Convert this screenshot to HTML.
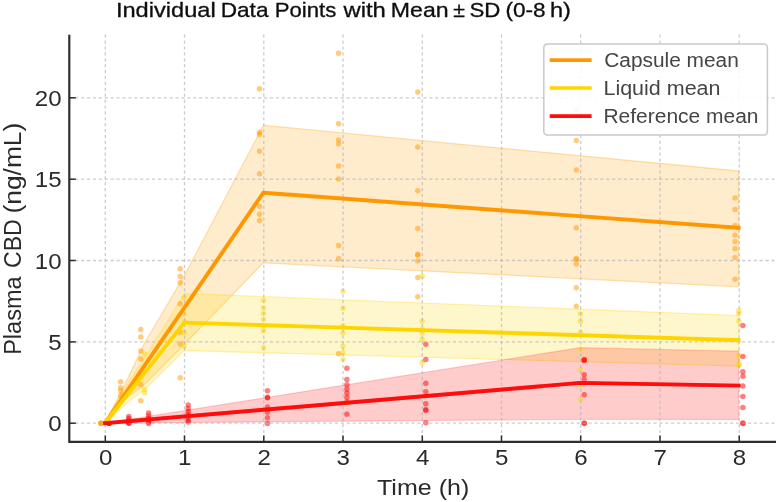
<!DOCTYPE html>
<html lang="en">
<head>
<meta charset="utf-8">
<title>Individual Data Points with Mean ± SD (0-8 h)</title>
<style>
html,body{margin:0;padding:0;background:#ffffff;}
body{width:779px;height:502px;overflow:hidden;font-family:"Liberation Sans",sans-serif;}
svg{display:block;}
</style>
</head>
<body>
<svg width="779" height="502" viewBox="0 0 779 502">
<rect width="779" height="502" fill="#ffffff"/>
<defs><filter id="soft" x="-2%" y="-2%" width="104%" height="104%"><feGaussianBlur stdDeviation="0.45"/></filter><filter id="soft2" x="-2%" y="-20%" width="104%" height="140%"><feGaussianBlur stdDeviation="0.25"/></filter></defs>
<g filter="url(#soft)">
<polygon points="105.0,423.2 124.8,384.5 144.6,343.0 184.2,276.0 263.4,125.3 738.6,171.0 738.6,286.8 263.4,262.8 184.2,344.5 144.6,384.5 124.8,399.5 105.0,423.2" fill="#FFA000" fill-opacity="0.2" stroke="#FFA000" stroke-opacity="0.3" stroke-width="1.3" stroke-linejoin="round"/>
<polygon points="105.0,423.2 124.8,388.0 144.6,358.0 184.2,293.5 738.6,315.6 738.6,366.2 184.2,350.5 144.6,389.5 124.8,405.0 105.0,423.2" fill="#FFD500" fill-opacity="0.2" stroke="#FFD500" stroke-opacity="0.3" stroke-width="1.3" stroke-linejoin="round"/>
<polygon points="105.0,423.2 580.2,347.7 738.6,351.2 738.6,419.5 580.2,419.3 105.0,423.2" fill="#FF0808" fill-opacity="0.2" stroke="#FF0808" stroke-opacity="0.18" stroke-width="1.3" stroke-linejoin="round"/>
<g fill="#FF9800" fill-opacity="0.5"><circle cx="101.0" cy="423.2" r="2.75"/><circle cx="101.0" cy="423.2" r="2.75"/><circle cx="101.0" cy="423.2" r="2.75"/><circle cx="120.6" cy="381.8" r="2.75"/><circle cx="120.6" cy="387.8" r="2.75"/><circle cx="120.6" cy="391.0" r="2.75"/><circle cx="120.6" cy="396.0" r="2.75"/><circle cx="140.8" cy="329.6" r="2.75"/><circle cx="140.8" cy="337.0" r="2.75"/><circle cx="140.8" cy="351.0" r="2.75"/><circle cx="140.8" cy="359.0" r="2.75"/><circle cx="140.8" cy="384.5" r="2.75"/><circle cx="140.8" cy="400.8" r="2.75"/><circle cx="180.2" cy="268.8" r="2.75"/><circle cx="180.2" cy="276.5" r="2.75"/><circle cx="180.2" cy="282.8" r="2.75"/><circle cx="180.2" cy="303.8" r="2.75"/><circle cx="180.2" cy="332.4" r="2.75"/><circle cx="180.2" cy="343.9" r="2.75"/><circle cx="180.2" cy="377.8" r="2.75"/><circle cx="259.5" cy="88.8" r="2.75"/><circle cx="259.5" cy="132.3" r="2.75"/><circle cx="259.5" cy="134.6" r="2.75"/><circle cx="259.5" cy="151.2" r="2.75"/><circle cx="259.5" cy="173.7" r="2.75"/><circle cx="259.5" cy="206.3" r="2.75"/><circle cx="259.5" cy="214.3" r="2.75"/><circle cx="259.5" cy="220.6" r="2.75"/><circle cx="338.6" cy="53.2" r="2.75"/><circle cx="338.6" cy="123.7" r="2.75"/><circle cx="338.6" cy="140.0" r="2.75"/><circle cx="338.6" cy="144.0" r="2.75"/><circle cx="338.6" cy="166.0" r="2.75"/><circle cx="338.6" cy="179.1" r="2.75"/><circle cx="338.6" cy="245.5" r="2.75"/><circle cx="338.6" cy="258.8" r="2.75"/><circle cx="338.6" cy="353.8" r="2.75"/><circle cx="417.8" cy="91.9" r="2.75"/><circle cx="417.8" cy="147.1" r="2.75"/><circle cx="417.8" cy="190.8" r="2.75"/><circle cx="417.8" cy="228.6" r="2.75"/><circle cx="417.8" cy="254.2" r="2.75"/><circle cx="417.8" cy="255.2" r="2.75"/><circle cx="417.8" cy="260.9" r="2.75"/><circle cx="417.8" cy="277.4" r="2.75"/><circle cx="417.8" cy="296.7" r="2.75"/><circle cx="576.3" cy="110.0" r="2.75"/><circle cx="576.3" cy="140.4" r="2.75"/><circle cx="576.3" cy="170.1" r="2.75"/><circle cx="576.3" cy="227.8" r="2.75"/><circle cx="576.3" cy="258.6" r="2.75"/><circle cx="576.3" cy="259.6" r="2.75"/><circle cx="576.3" cy="264.1" r="2.75"/><circle cx="576.3" cy="287.8" r="2.75"/><circle cx="576.3" cy="306.3" r="2.75"/><circle cx="735.0" cy="198.0" r="2.75"/><circle cx="735.0" cy="209.4" r="2.75"/><circle cx="735.0" cy="225.4" r="2.75"/><circle cx="735.0" cy="235.2" r="2.75"/><circle cx="735.0" cy="241.5" r="2.75"/><circle cx="735.0" cy="248.7" r="2.75"/><circle cx="735.0" cy="257.5" r="2.75"/><circle cx="735.0" cy="279.2" r="2.75"/></g>
<g fill="#FFD500" fill-opacity="0.5"><circle cx="105.0" cy="423.2" r="2.75"/><circle cx="105.0" cy="423.2" r="2.75"/><circle cx="124.8" cy="395.0" r="2.75"/><circle cx="144.6" cy="353.9" r="2.75"/><circle cx="144.6" cy="389.6" r="2.75"/><circle cx="144.6" cy="392.8" r="2.75"/><circle cx="184.2" cy="297.5" r="2.75"/><circle cx="184.2" cy="314.0" r="2.75"/><circle cx="184.2" cy="322.0" r="2.75"/><circle cx="184.2" cy="332.4" r="2.75"/><circle cx="184.2" cy="345.9" r="2.75"/><circle cx="263.4" cy="300.3" r="2.75"/><circle cx="263.4" cy="307.9" r="2.75"/><circle cx="263.4" cy="313.4" r="2.75"/><circle cx="263.4" cy="319.4" r="2.75"/><circle cx="263.4" cy="325.5" r="2.75"/><circle cx="263.4" cy="330.4" r="2.75"/><circle cx="263.4" cy="347.8" r="2.75"/><circle cx="343.0" cy="291.3" r="2.75"/><circle cx="343.0" cy="308.2" r="2.75"/><circle cx="343.0" cy="325.9" r="2.75"/><circle cx="343.0" cy="332.9" r="2.75"/><circle cx="343.0" cy="346.2" r="2.75"/><circle cx="343.0" cy="352.8" r="2.75"/><circle cx="343.0" cy="359.4" r="2.75"/><circle cx="422.2" cy="276.2" r="2.75"/><circle cx="422.2" cy="321.0" r="2.75"/><circle cx="422.2" cy="329.0" r="2.75"/><circle cx="422.2" cy="333.0" r="2.75"/><circle cx="422.2" cy="339.3" r="2.75"/><circle cx="422.2" cy="362.8" r="2.75"/><circle cx="580.4" cy="313.9" r="2.75"/><circle cx="580.4" cy="321.2" r="2.75"/><circle cx="580.4" cy="332.2" r="2.75"/><circle cx="580.4" cy="349.3" r="2.75"/><circle cx="580.4" cy="369.7" r="2.75"/><circle cx="580.4" cy="385.5" r="2.75"/><circle cx="580.4" cy="399.4" r="2.75"/><circle cx="738.9" cy="310.5" r="2.75"/><circle cx="738.9" cy="313.6" r="2.75"/><circle cx="738.9" cy="321.0" r="2.75"/><circle cx="738.9" cy="356.3" r="2.75"/><circle cx="738.9" cy="364.5" r="2.75"/><circle cx="738.9" cy="365.2" r="2.75"/></g>
<g fill="#FF0808" fill-opacity="0.5"><circle cx="109.0" cy="423.2" r="2.75"/><circle cx="109.0" cy="423.2" r="2.75"/><circle cx="109.0" cy="423.2" r="2.75"/><circle cx="109.0" cy="423.2" r="2.75"/><circle cx="128.8" cy="416.5" r="2.75"/><circle cx="128.8" cy="418.5" r="2.75"/><circle cx="128.8" cy="420.5" r="2.75"/><circle cx="128.8" cy="422.0" r="2.75"/><circle cx="128.8" cy="423.2" r="2.75"/><circle cx="128.8" cy="423.2" r="2.75"/><circle cx="148.6" cy="413.0" r="2.75"/><circle cx="148.6" cy="416.0" r="2.75"/><circle cx="148.6" cy="418.5" r="2.75"/><circle cx="148.6" cy="420.5" r="2.75"/><circle cx="148.6" cy="422.0" r="2.75"/><circle cx="148.6" cy="423.4" r="2.75"/><circle cx="188.2" cy="405.0" r="2.75"/><circle cx="188.2" cy="408.5" r="2.75"/><circle cx="188.2" cy="411.5" r="2.75"/><circle cx="188.2" cy="414.5" r="2.75"/><circle cx="188.2" cy="417.5" r="2.75"/><circle cx="188.2" cy="420.5" r="2.75"/><circle cx="188.2" cy="422.0" r="2.75"/><circle cx="267.5" cy="390.8" r="2.75"/><circle cx="267.5" cy="397.2" r="2.75"/><circle cx="267.5" cy="397.8" r="2.75"/><circle cx="267.5" cy="407.0" r="2.75"/><circle cx="267.5" cy="412.2" r="2.75"/><circle cx="267.5" cy="417.8" r="2.75"/><circle cx="267.5" cy="423.5" r="2.75"/><circle cx="346.9" cy="368.3" r="2.75"/><circle cx="346.9" cy="379.6" r="2.75"/><circle cx="346.9" cy="384.8" r="2.75"/><circle cx="346.9" cy="389.3" r="2.75"/><circle cx="346.9" cy="393.3" r="2.75"/><circle cx="346.9" cy="397.4" r="2.75"/><circle cx="346.9" cy="402.0" r="2.75"/><circle cx="346.9" cy="414.2" r="2.75"/><circle cx="425.8" cy="344.3" r="2.75"/><circle cx="425.8" cy="359.4" r="2.75"/><circle cx="425.8" cy="383.3" r="2.75"/><circle cx="425.8" cy="391.7" r="2.75"/><circle cx="425.8" cy="403.8" r="2.75"/><circle cx="425.8" cy="409.6" r="2.75"/><circle cx="425.8" cy="410.4" r="2.75"/><circle cx="425.8" cy="422.8" r="2.75"/><circle cx="584.2" cy="359.6" r="2.75"/><circle cx="584.2" cy="360.2" r="2.75"/><circle cx="584.2" cy="360.6" r="2.75"/><circle cx="584.2" cy="374.8" r="2.75"/><circle cx="584.2" cy="379.5" r="2.75"/><circle cx="584.2" cy="394.8" r="2.75"/><circle cx="584.2" cy="422.9" r="2.75"/><circle cx="584.2" cy="423.4" r="2.75"/><circle cx="742.9" cy="325.4" r="2.75"/><circle cx="742.9" cy="356.4" r="2.75"/><circle cx="742.9" cy="371.7" r="2.75"/><circle cx="742.9" cy="376.3" r="2.75"/><circle cx="742.9" cy="386.0" r="2.75"/><circle cx="742.9" cy="396.6" r="2.75"/><circle cx="742.9" cy="407.6" r="2.75"/><circle cx="742.9" cy="423.0" r="2.75"/><circle cx="742.9" cy="423.4" r="2.75"/></g>
<g stroke="#a9aeb8" stroke-opacity="0.62" stroke-width="1.3" stroke-dasharray="3.2 2.7"><line x1="105.3" y1="34.6" x2="105.3" y2="441.9"/><line x1="184.5" y1="34.6" x2="184.5" y2="441.9"/><line x1="263.8" y1="34.6" x2="263.8" y2="441.9"/><line x1="343.0" y1="34.6" x2="343.0" y2="441.9"/><line x1="422.3" y1="34.6" x2="422.3" y2="441.9"/><line x1="501.5" y1="34.6" x2="501.5" y2="441.9"/><line x1="580.7" y1="34.6" x2="580.7" y2="441.9"/><line x1="660.0" y1="34.6" x2="660.0" y2="441.9"/><line x1="739.2" y1="34.6" x2="739.2" y2="441.9"/><line x1="69.3" y1="423.2" x2="776.0" y2="423.2"/><line x1="69.3" y1="341.9" x2="776.0" y2="341.9"/><line x1="69.3" y1="260.5" x2="776.0" y2="260.5"/><line x1="69.3" y1="179.2" x2="776.0" y2="179.2"/><line x1="69.3" y1="97.8" x2="776.0" y2="97.8"/></g>
<polyline points="105.0,423.2 263.4,192.7 738.6,227.9" fill="none" stroke="#FF9800" stroke-width="3.9" stroke-linecap="square" stroke-linejoin="round"/>
<polyline points="105.0,423.2 184.2,322.6 738.6,340.2" fill="none" stroke="#FFD500" stroke-width="3.9" stroke-linecap="square" stroke-linejoin="round"/>
<polyline points="105.0,423.2 580.2,382.9 738.6,385.6" fill="none" stroke="#FF0808" stroke-width="3.9" stroke-linecap="square" stroke-linejoin="round"/>
<path d="M69.3 34.800000000000004 V442.9 M68.3 441.9 H776.0" fill="none" stroke="#2e2e2e" stroke-width="2.2"/>
<g stroke="#2e2e2e" stroke-width="1.5"><line x1="105.3" y1="441.9" x2="105.3" y2="435.4"/><line x1="184.5" y1="441.9" x2="184.5" y2="435.4"/><line x1="263.8" y1="441.9" x2="263.8" y2="435.4"/><line x1="343.0" y1="441.9" x2="343.0" y2="435.4"/><line x1="422.3" y1="441.9" x2="422.3" y2="435.4"/><line x1="501.5" y1="441.9" x2="501.5" y2="435.4"/><line x1="580.7" y1="441.9" x2="580.7" y2="435.4"/><line x1="660.0" y1="441.9" x2="660.0" y2="435.4"/><line x1="739.2" y1="441.9" x2="739.2" y2="435.4"/><line x1="69.3" y1="423.2" x2="75.8" y2="423.2"/><line x1="69.3" y1="341.9" x2="75.8" y2="341.9"/><line x1="69.3" y1="260.5" x2="75.8" y2="260.5"/><line x1="69.3" y1="179.2" x2="75.8" y2="179.2"/><line x1="69.3" y1="97.8" x2="75.8" y2="97.8"/></g>
<g font-family="Liberation Sans, sans-serif" font-size="22.8" fill="#2b2b2b"><text x="98.9" y="465.3" textLength="13.4" lengthAdjust="spacingAndGlyphs">0</text><text x="178.1" y="465.3" textLength="13.4" lengthAdjust="spacingAndGlyphs">1</text><text x="257.4" y="465.3" textLength="13.4" lengthAdjust="spacingAndGlyphs">2</text><text x="336.6" y="465.3" textLength="13.4" lengthAdjust="spacingAndGlyphs">3</text><text x="415.9" y="465.3" textLength="13.4" lengthAdjust="spacingAndGlyphs">4</text><text x="495.1" y="465.3" textLength="13.4" lengthAdjust="spacingAndGlyphs">5</text><text x="574.3" y="465.3" textLength="13.4" lengthAdjust="spacingAndGlyphs">6</text><text x="653.6" y="465.3" textLength="13.4" lengthAdjust="spacingAndGlyphs">7</text><text x="732.8" y="465.3" textLength="13.4" lengthAdjust="spacingAndGlyphs">8</text><text x="48.2" y="431.3" textLength="13.4" lengthAdjust="spacingAndGlyphs">0</text><text x="48.2" y="350.0" textLength="13.4" lengthAdjust="spacingAndGlyphs">5</text><text x="34.8" y="268.6" textLength="26.8" lengthAdjust="spacingAndGlyphs">10</text><text x="34.8" y="187.2" textLength="26.8" lengthAdjust="spacingAndGlyphs">15</text><text x="34.8" y="105.9" textLength="26.8" lengthAdjust="spacingAndGlyphs">20</text></g>
<text x="376.99" y="494.8" font-family="Liberation Sans, sans-serif" font-size="22.4" fill="#2b2b2b" textLength="92.3" lengthAdjust="spacingAndGlyphs">Time (h)</text>
<text transform="translate(20.7 354.80) rotate(-90)" font-family="Liberation Sans, sans-serif" font-size="23.0" fill="#2b2b2b" textLength="78.31" lengthAdjust="spacingAndGlyphs">Plasma</text>
<text transform="translate(20.7 268.06) rotate(-90)" font-family="Liberation Sans, sans-serif" font-size="23.0" fill="#2b2b2b" textLength="48.87" lengthAdjust="spacingAndGlyphs">CBD</text>
<text transform="translate(20.7 213.55) rotate(-90)" font-family="Liberation Sans, sans-serif" font-size="23.0" fill="#2b2b2b" textLength="90.87" lengthAdjust="spacingAndGlyphs">(ng/mL)</text>
<rect x="543.8" y="44.1" width="223.6" height="90.8" rx="3.5" ry="3.5" fill="#ffffff" fill-opacity="0.88" stroke="#c6c6c6" stroke-opacity="0.95" stroke-width="1.5"/>
<line x1="551.5" y1="60.1" x2="589.8" y2="60.1" stroke="#FF9800" stroke-width="3.6" stroke-linecap="square"/>
<line x1="551.5" y1="88.0" x2="589.8" y2="88.0" stroke="#FFD500" stroke-width="3.6" stroke-linecap="square"/>
<line x1="551.5" y1="116.1" x2="589.8" y2="116.1" stroke="#FF0808" stroke-width="3.6" stroke-linecap="square"/>
<text x="604.23" y="67.0" font-family="Liberation Sans, sans-serif" font-size="19.6" fill="#444444" textLength="134.54" lengthAdjust="spacingAndGlyphs">Capsule mean</text>
<text x="603.45" y="94.9" font-family="Liberation Sans, sans-serif" font-size="19.6" fill="#444444" textLength="117.09" lengthAdjust="spacingAndGlyphs">Liquid mean</text>
<text x="603.46" y="123.0" font-family="Liberation Sans, sans-serif" font-size="19.6" fill="#444444" textLength="155.07" lengthAdjust="spacingAndGlyphs">Reference mean</text>
</g>
<g filter="url(#soft2)" stroke="#0d0d0d" stroke-width="0.3"><text x="115.92" y="16.9" font-family="Liberation Sans, sans-serif" font-size="20.3" fill="#0d0d0d" textLength="99.88" lengthAdjust="spacingAndGlyphs">Individual</text><text x="220.68" y="16.9" font-family="Liberation Sans, sans-serif" font-size="20.3" fill="#0d0d0d" textLength="47.83" lengthAdjust="spacingAndGlyphs">Data</text><text x="274.68" y="16.9" font-family="Liberation Sans, sans-serif" font-size="20.3" fill="#0d0d0d" textLength="61.6" lengthAdjust="spacingAndGlyphs">Points</text><text x="343.5" y="16.9" font-family="Liberation Sans, sans-serif" font-size="20.3" fill="#0d0d0d" textLength="42.31" lengthAdjust="spacingAndGlyphs">with</text><text x="390.89" y="16.9" font-family="Liberation Sans, sans-serif" font-size="20.3" fill="#0d0d0d" textLength="57.71" lengthAdjust="spacingAndGlyphs">Mean</text><text x="453.16" y="16.9" font-family="Liberation Sans, sans-serif" font-size="20.3" fill="#0d0d0d" textLength="11.68" lengthAdjust="spacingAndGlyphs">±</text><text x="469.43" y="16.9" font-family="Liberation Sans, sans-serif" font-size="20.3" fill="#0d0d0d" textLength="30.9" lengthAdjust="spacingAndGlyphs">SD</text><text x="505.4" y="16.9" font-family="Liberation Sans, sans-serif" font-size="20.3" fill="#0d0d0d" textLength="40.16" lengthAdjust="spacingAndGlyphs">(0-8</text><text x="550.0" y="16.9" font-family="Liberation Sans, sans-serif" font-size="20.3" fill="#0d0d0d" textLength="20.95" lengthAdjust="spacingAndGlyphs">h)</text></g>
</svg>
</body>
</html>
